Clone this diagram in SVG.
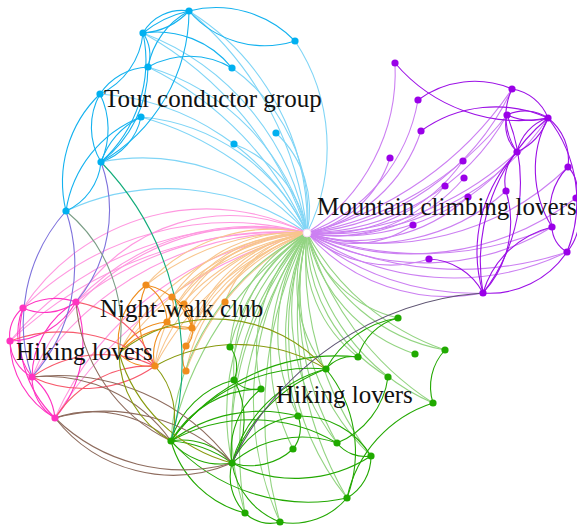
<svg xmlns="http://www.w3.org/2000/svg" width="577" height="526" viewBox="0 0 577 526">
<style>
path{fill:none;stroke-width:1.1}
.hb{stroke:#80d5f6}.hu{stroke:#cc80f2}.hp{stroke:#ff99e0}.ho{stroke:#f8c68e}.hg{stroke:#93d482}
.eb{stroke:#14b2ef}.eu{stroke:#9c10e6}.ep{stroke:#ff33c2}.eo{stroke:#ef8c1c}.eg{stroke:#22a800}
.xpo{stroke:#f75a6c}.xpg{stroke:#8e6c5e}.xog{stroke:#889a0e}.xbg{stroke:#12ac7a}.xbp{stroke:#7e72dc}.xbo{stroke:#7a9e86}.xug{stroke:#5e5472}
.nb{fill:#00b0f0}.nu{fill:#9a00e8}.np{fill:#ff33c0}.no{fill:#f08c1c}.ng{fill:#20aa00}
text{font-family:"Liberation Serif","Times New Roman",serif;font-size:25px;fill:#111}
</style>
<g id="connectors">
<g id="hub-links">
<path class="hb" d="M189 11A251 251 0 0 1 307 233"/>
<path class="hb" d="M295 41A192 192 0 0 1 307 233"/>
<path class="hb" d="M143 33A259 259 0 0 1 307 233"/>
<path class="hb" d="M232 68A181 181 0 0 1 307 233"/>
<path class="hb" d="M148 67A230 230 0 0 1 307 233"/>
<path class="hb" d="M100 94A249 249 0 0 1 307 233"/>
<path class="hb" d="M141 117A203 203 0 0 1 307 233"/>
<path class="hb" d="M276 133A105 105 0 0 1 307 233"/>
<path class="hb" d="M234 144A115 115 0 0 1 307 233"/>
<path class="hb" d="M101 162A218 218 0 0 1 307 233"/>
<path class="hb" d="M66 211A242 242 0 0 1 307 233"/>
<path class="hb" d="M143 33A350 350 0 0 1 307 233"/>
<path class="hb" d="M148 67A330 330 0 0 1 307 233"/>
<path class="hb" d="M141 117A300 300 0 0 1 307 233"/>
<path class="hb" d="M189 11A330 330 0 0 1 307 233"/>
<path class="hu" d="M395 63A191 191 0 0 1 307 233"/>
<path class="hu" d="M512 89A250 250 0 0 1 307 233"/>
<path class="hu" d="M418 100A173 173 0 0 1 307 233"/>
<path class="hu" d="M548 118A267 267 0 0 1 307 233"/>
<path class="hu" d="M507 115A232 232 0 0 1 307 233"/>
<path class="hu" d="M421 131A153 153 0 0 1 307 233"/>
<path class="hu" d="M517 152A225 225 0 0 1 307 233"/>
<path class="hu" d="M390 158A112 112 0 0 1 307 233"/>
<path class="hu" d="M463 161A172 172 0 0 1 307 233"/>
<path class="hu" d="M464 178A166 166 0 0 1 307 233"/>
<path class="hu" d="M445 186A146 146 0 0 1 307 233"/>
<path class="hu" d="M506 191A203 203 0 0 1 307 233"/>
<path class="hu" d="M468 197A165 165 0 0 1 307 233"/>
<path class="hu" d="M568 167A269 269 0 0 1 307 233"/>
<path class="hu" d="M576 198A271 271 0 0 1 307 233"/>
<path class="hu" d="M413 225A106 106 0 0 1 307 233"/>
<path class="hu" d="M552 227A245 245 0 0 1 307 233"/>
<path class="hu" d="M567 252A261 261 0 0 1 307 233"/>
<path class="hu" d="M429 259A125 125 0 0 1 307 233"/>
<path class="hu" d="M483 293A186 186 0 0 1 307 233"/>
<path class="hu" d="M512 89A350 350 0 0 1 307 233"/>
<path class="hu" d="M507 115A320 320 0 0 1 307 233"/>
<path class="hu" d="M517 152A300 300 0 0 1 307 233"/>
<path class="hu" d="M552 227A330 330 0 0 1 307 233"/>
<path class="hu" d="M567 252A340 340 0 0 1 307 233"/>
<path class="hu" d="M483 293A260 260 0 0 1 307 233"/>
<path class="hp" d="M23 308A294 294 0 0 1 307 233"/>
<path class="hp" d="M76 302A241 241 0 0 1 307 233"/>
<path class="hp" d="M10 341A316 316 0 0 1 307 233"/>
<path class="hp" d="M32 377A310 310 0 0 1 307 233"/>
<path class="hp" d="M55 418A313 313 0 0 1 307 233"/>
<path class="hp" d="M23 308A220 220 0 0 1 307 233"/>
<path class="hp" d="M76 302A180 180 0 0 1 307 233"/>
<path class="hp" d="M10 341A400 400 0 0 1 307 233"/>
<path class="hp" d="M32 377A240 240 0 0 1 307 233"/>
<path class="hp" d="M55 418A420 420 0 0 1 307 233"/>
<path class="hp" d="M76 302A330 330 0 0 1 307 233"/>
<path class="ho" d="M146 285A169 169 0 0 1 307 233"/>
<path class="ho" d="M172 297A149 149 0 0 1 307 233"/>
<path class="ho" d="M184 304A142 142 0 0 1 307 233"/>
<path class="ho" d="M225 302A107 107 0 0 1 307 233"/>
<path class="ho" d="M167 322A166 166 0 0 1 307 233"/>
<path class="ho" d="M192 328A149 149 0 0 1 307 233"/>
<path class="ho" d="M186 346A166 166 0 0 1 307 233"/>
<path class="ho" d="M155 366A202 202 0 0 1 307 233"/>
<path class="ho" d="M186 371A184 184 0 0 1 307 233"/>
<path class="ho" d="M119 353A223 223 0 0 1 307 233"/>
<path class="ho" d="M119 353A300 300 0 0 1 307 233"/>
<path class="ho" d="M146 285A240 240 0 0 1 307 233"/>
<path class="ho" d="M172 297A220 220 0 0 1 307 233"/>
<path class="ho" d="M167 322A230 230 0 0 1 307 233"/>
<path class="ho" d="M155 366A280 280 0 0 1 307 233"/>
<path class="ho" d="M186 346A240 240 0 0 1 307 233"/>
<path class="ho" d="M192 328A210 210 0 0 1 307 233"/>
<path class="ho" d="M155 366A150 150 0 0 1 307 233"/>
<path class="ho" d="M186 371A260 260 0 0 1 307 233"/>
<path class="hg" d="M398 318A125 125 0 0 1 307 233"/>
<path class="hg" d="M230 347A138 138 0 0 1 307 233"/>
<path class="hg" d="M358 357A134 134 0 0 1 307 233"/>
<path class="hg" d="M445 350A181 181 0 0 1 307 233"/>
<path class="hg" d="M415 354A162 162 0 0 1 307 233"/>
<path class="hg" d="M326 369A137 137 0 0 1 307 233"/>
<path class="hg" d="M234 380A164 164 0 0 1 307 233"/>
<path class="hg" d="M388 377A165 165 0 0 1 307 233"/>
<path class="hg" d="M261 389A163 163 0 0 1 307 233"/>
<path class="hg" d="M433 403A212 212 0 0 1 307 233"/>
<path class="hg" d="M298 416A183 183 0 0 1 307 233"/>
<path class="hg" d="M171 441A249 249 0 0 1 307 233"/>
<path class="hg" d="M337 443A212 212 0 0 1 307 233"/>
<path class="hg" d="M293 449A216 216 0 0 1 307 233"/>
<path class="hg" d="M371 456A232 232 0 0 1 307 233"/>
<path class="hg" d="M232 463A242 242 0 0 1 307 233"/>
<path class="hg" d="M347 498A268 268 0 0 1 307 233"/>
<path class="hg" d="M245 513A287 287 0 0 1 307 233"/>
<path class="hg" d="M280 522A290 290 0 0 1 307 233"/>
<path class="hg" d="M245 513A380 380 0 0 1 307 233"/>
<path class="hg" d="M280 522A400 400 0 0 1 307 233"/>
<path class="hg" d="M347 498A360 360 0 0 1 307 233"/>
<path class="hg" d="M232 463A330 330 0 0 1 307 233"/>
<path class="hg" d="M171 441A340 340 0 0 1 307 233"/>
<path class="hg" d="M371 456A320 320 0 0 1 307 233"/>
<path class="hg" d="M433 403A300 300 0 0 1 307 233"/>
<path class="hg" d="M445 350A250 250 0 0 1 307 233"/>
<path class="hg" d="M298 416A260 260 0 0 1 307 233"/>
<path class="hg" d="M337 443A290 290 0 0 1 307 233"/>
<path class="hg" d="M230 347A200 200 0 0 1 307 233"/>
</g>
<g id="group-links">
<path class="eb" d="M189 11A110 110 0 0 1 295 41"/>
<path class="eb" d="M189 11A100 100 0 0 0 295 41"/>
<path class="eb" d="M189 11A45 45 0 0 0 143 33"/>
<path class="eb" d="M189 11A70 70 0 0 1 143 33"/>
<path class="eb" d="M189 11A110 110 0 0 0 143 33"/>
<path class="eb" d="M189 11A80 80 0 0 0 148 67"/>
<path class="eb" d="M143 33A96 96 0 0 1 232 68"/>
<path class="eb" d="M148 67A84 84 0 0 1 232 68"/>
<path class="eb" d="M143 33A40 40 0 0 1 148 67"/>
<path class="eb" d="M143 33A75 75 0 0 1 100 94"/>
<path class="eb" d="M143 33A136 136 0 0 1 101 162"/>
<path class="eb" d="M148 67A120 120 0 0 1 101 162"/>
<path class="eb" d="M189 11A175 175 0 0 1 101 162"/>
<path class="eb" d="M148 67A60 60 0 0 0 100 94"/>
<path class="eb" d="M100 94A68 68 0 0 0 101 162"/>
<path class="eb" d="M100 94A80 80 0 0 1 101 162"/>
<path class="eb" d="M100 94A122 122 0 0 0 66 211"/>
<path class="eb" d="M141 117A120 120 0 0 0 66 211"/>
<path class="eb" d="M141 117A60 60 0 0 1 101 162"/>
<path class="eb" d="M141 117A80 80 0 0 0 101 162"/>
<path class="eb" d="M101 162A60 60 0 0 1 66 211"/>
<path class="eu" d="M395 63A163 163 0 0 0 548 118"/>
<path class="eu" d="M418 100A95 95 0 0 1 512 89"/>
<path class="eu" d="M421 131A128 128 0 0 1 548 118"/>
<path class="eu" d="M512 89A46 46 0 0 1 548 118"/>
<path class="eu" d="M507 115A41 41 0 0 1 548 118"/>
<path class="eu" d="M507 115A60 60 0 0 0 548 118"/>
<path class="eu" d="M512 89A63 63 0 0 0 517 152"/>
<path class="eu" d="M507 115A38 38 0 0 0 517 152"/>
<path class="eu" d="M548 118A46 46 0 0 0 517 152"/>
<path class="eu" d="M548 118A60 60 0 0 1 517 152"/>
<path class="eu" d="M548 118A53 53 0 0 1 568 167"/>
<path class="eu" d="M548 118A109 109 0 0 0 552 227"/>
<path class="eu" d="M548 118A135 135 0 0 1 567 252"/>
<path class="eu" d="M568 167A32 32 0 0 1 576 198"/>
<path class="eu" d="M568 167A62 62 0 0 0 552 227"/>
<path class="eu" d="M552 227A29 29 0 0 0 567 252"/>
<path class="eu" d="M576 198A55 55 0 0 1 567 252"/>
<path class="eu" d="M567 252A93 93 0 0 1 483 293"/>
<path class="eu" d="M552 227A95 95 0 0 0 483 293"/>
<path class="eu" d="M517 152A145 145 0 0 0 483 293"/>
<path class="eu" d="M506 191A105 105 0 0 1 483 293"/>
<path class="eu" d="M507 115A180 180 0 0 1 483 293"/>
<path class="eu" d="M429 259A64 64 0 0 1 483 293"/>
<path class="eu" d="M506 191A41 41 0 0 1 517 152"/>
<path class="eu" d="M548 118A187 187 0 0 0 483 293"/>
<path class="ep" d="M23 308A53 53 0 0 0 76 302"/>
<path class="ep" d="M23 308A60 60 0 0 1 76 302"/>
<path class="ep" d="M23 308A35 35 0 0 0 10 341"/>
<path class="ep" d="M23 308A70 70 0 0 0 32 377"/>
<path class="ep" d="M23 308A115 115 0 0 0 55 418"/>
<path class="ep" d="M76 302A87 87 0 0 0 32 377"/>
<path class="ep" d="M76 302A118 118 0 0 1 55 418"/>
<path class="ep" d="M10 341A42 42 0 0 0 32 377"/>
<path class="ep" d="M32 377A47 47 0 0 0 55 418"/>
<path class="ep" d="M32 377A60 60 0 0 1 55 418"/>
<path class="ep" d="M10 341A89 89 0 0 0 55 418"/>
<path class="ep" d="M76 302A77 77 0 0 1 10 341"/>
<path class="eo" d="M146 285A43 43 0 0 1 167 322"/>
<path class="eo" d="M146 285A82 82 0 0 0 155 366"/>
<path class="eo" d="M172 297A26 26 0 0 1 167 322"/>
<path class="eo" d="M184 304A25 25 0 0 1 192 328"/>
<path class="eo" d="M167 322A26 26 0 0 0 192 328"/>
<path class="eo" d="M192 328A19 19 0 0 1 186 346"/>
<path class="eo" d="M186 346A25 25 0 0 0 186 371"/>
<path class="eo" d="M167 322A46 46 0 0 0 155 366"/>
<path class="eo" d="M172 297A37 37 0 0 1 192 328"/>
<path class="eo" d="M146 285A60 60 0 0 1 192 328"/>
<path class="eo" d="M119 353A72 72 0 0 1 146 285"/>
<path class="eo" d="M119 353A60 60 0 0 1 167 322"/>
<path class="eo" d="M119 353A40 40 0 0 0 155 366"/>
<path class="eo" d="M119 353A80 80 0 0 1 192 328"/>
<path class="eg" d="M398 318A56 56 0 0 0 358 357"/>
<path class="eg" d="M358 357A34 34 0 0 0 326 369"/>
<path class="eg" d="M398 318A100 100 0 0 0 326 369"/>
<path class="eg" d="M445 350A54 54 0 0 0 433 403"/>
<path class="eg" d="M433 403A128 128 0 0 0 347 498"/>
<path class="eg" d="M388 377A83 83 0 0 1 337 443"/>
<path class="eg" d="M230 347A33 33 0 0 1 234 380"/>
<path class="eg" d="M234 380A28 28 0 0 0 261 389"/>
<path class="eg" d="M234 380A88 88 0 0 0 171 441"/>
<path class="eg" d="M234 380A83 83 0 0 1 232 463"/>
<path class="eg" d="M171 441A171 171 0 0 1 326 369"/>
<path class="eg" d="M171 441A205 205 0 0 1 358 357"/>
<path class="eg" d="M171 441A65 65 0 0 1 232 463"/>
<path class="eg" d="M171 441A65 65 0 0 0 232 463"/>
<path class="eg" d="M171 441A120 120 0 0 1 232 463"/>
<path class="eg" d="M171 441A103 103 0 0 0 245 513"/>
<path class="eg" d="M171 441A166 166 0 0 1 337 443"/>
<path class="eg" d="M171 441A104 104 0 0 1 261 389"/>
<path class="eg" d="M171 441A150 150 0 0 1 298 416"/>
<path class="eg" d="M171 441A185 185 0 0 0 347 498"/>
<path class="eg" d="M232 463A133 133 0 0 1 326 369"/>
<path class="eg" d="M232 463A160 160 0 0 1 326 369"/>
<path class="eg" d="M232 463A107 107 0 0 1 337 443"/>
<path class="eg" d="M232 463A81 81 0 0 1 298 416"/>
<path class="eg" d="M232 463A139 139 0 0 0 371 456"/>
<path class="eg" d="M232 463A63 63 0 0 0 293 449"/>
<path class="eg" d="M232 463A76 76 0 0 0 280 522"/>
<path class="eg" d="M298 416A83 83 0 0 1 371 456"/>
<path class="eg" d="M337 443A36 36 0 0 0 371 456"/>
<path class="eg" d="M371 456A48 48 0 0 1 347 498"/>
<path class="eg" d="M347 498A71 71 0 0 1 280 522"/>
<path class="eg" d="M245 513A36 36 0 0 0 280 522"/>
<path class="eg" d="M245 513A52 52 0 0 1 232 463"/>
<path class="eg" d="M326 369A131 131 0 0 1 347 498"/>
<path class="eg" d="M261 389A79 79 0 0 0 232 463"/>
<path class="eg" d="M298 416A33 33 0 0 1 293 449"/>
</g>
<g id="cross-links">
<path class="xpo" d="M76 302A102 102 0 0 1 155 366"/>
<path class="xpo" d="M32 377A123 123 0 0 1 155 366"/>
<path class="xpo" d="M32 377A123 123 0 0 0 155 366"/>
<path class="xpo" d="M55 418A113 113 0 0 1 155 366"/>
<path class="xpo" d="M10 341A147 147 0 0 1 155 366"/>
<path class="xpg" d="M32 377A153 153 0 0 1 171 441"/>
<path class="xpg" d="M55 418A118 118 0 0 1 171 441"/>
<path class="xpg" d="M55 418A183 183 0 0 0 232 463"/>
<path class="xpg" d="M55 418A150 150 0 0 0 232 463"/>
<path class="xpg" d="M55 418A183 183 0 0 1 232 463"/>
<path class="xpg" d="M76 302A168 168 0 0 0 171 441"/>
<path class="xpg" d="M32 377A218 218 0 0 1 232 463"/>
<path class="xog" d="M155 366A171 171 0 0 1 326 369"/>
<path class="xog" d="M119 353A150 150 0 0 1 326 369"/>
<path class="xog" d="M155 366A77 77 0 0 1 171 441"/>
<path class="xog" d="M119 353A102 102 0 0 0 171 441"/>
<path class="xog" d="M119 353A160 160 0 0 0 232 463"/>
<path class="xbg" d="M101 162A288 288 0 0 1 171 441"/>
<path class="xbp" d="M66 211A169 169 0 0 0 32 377"/>
<path class="xbp" d="M66 211A169 169 0 0 1 32 377"/>
<path class="xbp" d="M101 162A142 142 0 0 1 76 302"/>
<path class="xbo" d="M66 211A152 152 0 0 1 119 353"/>
<path class="xug" d="M232 463A303 303 0 0 1 483 293"/>
</g>
</g>
<g id="hub"><circle cx="307" cy="233" r="4" fill="#fff" stroke="#f3d6f3" stroke-width="1"/></g>
<g id="tour-conductor-group">
<circle class="nb" cx="189" cy="11" r="3.6"/><circle class="nb" cx="295" cy="41" r="3.6"/><circle class="nb" cx="143" cy="33" r="3.6"/><circle class="nb" cx="232" cy="68" r="3.6"/><circle class="nb" cx="148" cy="67" r="3.6"/><circle class="nb" cx="100" cy="94" r="3.6"/><circle class="nb" cx="141" cy="117" r="3.6"/><circle class="nb" cx="276" cy="133" r="3.6"/><circle class="nb" cx="234" cy="144" r="3.6"/><circle class="nb" cx="101" cy="162" r="3.6"/><circle class="nb" cx="66" cy="211" r="3.6"/>
<text x="104" y="107">Tour conductor group</text>
</g>
<g id="mountain-climbing-lovers">
<circle class="nu" cx="395" cy="63" r="3.6"/><circle class="nu" cx="512" cy="89" r="3.6"/><circle class="nu" cx="418" cy="100" r="3.6"/><circle class="nu" cx="548" cy="118" r="3.6"/><circle class="nu" cx="507" cy="115" r="3.6"/><circle class="nu" cx="421" cy="131" r="3.6"/><circle class="nu" cx="517" cy="152" r="3.6"/><circle class="nu" cx="390" cy="158" r="3.6"/><circle class="nu" cx="463" cy="161" r="3.6"/><circle class="nu" cx="464" cy="178" r="3.6"/><circle class="nu" cx="445" cy="186" r="3.6"/><circle class="nu" cx="506" cy="191" r="3.6"/><circle class="nu" cx="468" cy="197" r="3.6"/><circle class="nu" cx="568" cy="167" r="3.6"/><circle class="nu" cx="576" cy="198" r="3.6"/><circle class="nu" cx="413" cy="225" r="3.6"/><circle class="nu" cx="552" cy="227" r="3.6"/><circle class="nu" cx="567" cy="252" r="3.6"/><circle class="nu" cx="429" cy="259" r="3.6"/><circle class="nu" cx="483" cy="293" r="3.6"/>
<text x="317" y="215">Mountain climbing lovers</text>
</g>
<g id="hiking-lovers-left">
<circle class="np" cx="23" cy="308" r="3.6"/><circle class="np" cx="76" cy="302" r="3.6"/><circle class="np" cx="10" cy="341" r="3.6"/><circle class="np" cx="32" cy="377" r="3.6"/><circle class="np" cx="55" cy="418" r="3.6"/>
<text x="16" y="360">Hiking lovers</text>
</g>
<g id="night-walk-club">
<circle class="no" cx="146" cy="285" r="3.6"/><circle class="no" cx="172" cy="297" r="3.6"/><circle class="no" cx="184" cy="304" r="3.6"/><circle class="no" cx="225" cy="302" r="3.6"/><circle class="no" cx="167" cy="322" r="3.6"/><circle class="no" cx="192" cy="328" r="3.6"/><circle class="no" cx="186" cy="346" r="3.6"/><circle class="no" cx="155" cy="366" r="3.6"/><circle class="no" cx="186" cy="371" r="3.6"/>
<text x="100" y="317">Night-walk club</text>
</g>
<g id="hiking-lovers-right">
<circle class="ng" cx="398" cy="318" r="3.6"/><circle class="ng" cx="230" cy="347" r="3.6"/><circle class="ng" cx="358" cy="357" r="3.6"/><circle class="ng" cx="445" cy="350" r="3.6"/><circle class="ng" cx="415" cy="354" r="3.6"/><circle class="ng" cx="326" cy="369" r="3.6"/><circle class="ng" cx="234" cy="380" r="3.6"/><circle class="ng" cx="388" cy="377" r="3.6"/><circle class="ng" cx="261" cy="389" r="3.6"/><circle class="ng" cx="433" cy="403" r="3.6"/><circle class="ng" cx="298" cy="416" r="3.6"/><circle class="ng" cx="171" cy="441" r="3.6"/><circle class="ng" cx="337" cy="443" r="3.6"/><circle class="ng" cx="293" cy="449" r="3.6"/><circle class="ng" cx="371" cy="456" r="3.6"/><circle class="ng" cx="232" cy="463" r="3.6"/><circle class="ng" cx="347" cy="498" r="3.6"/><circle class="ng" cx="245" cy="513" r="3.6"/><circle class="ng" cx="280" cy="522" r="3.6"/>
<text x="276" y="403">Hiking lovers</text>
</g>
</svg>
